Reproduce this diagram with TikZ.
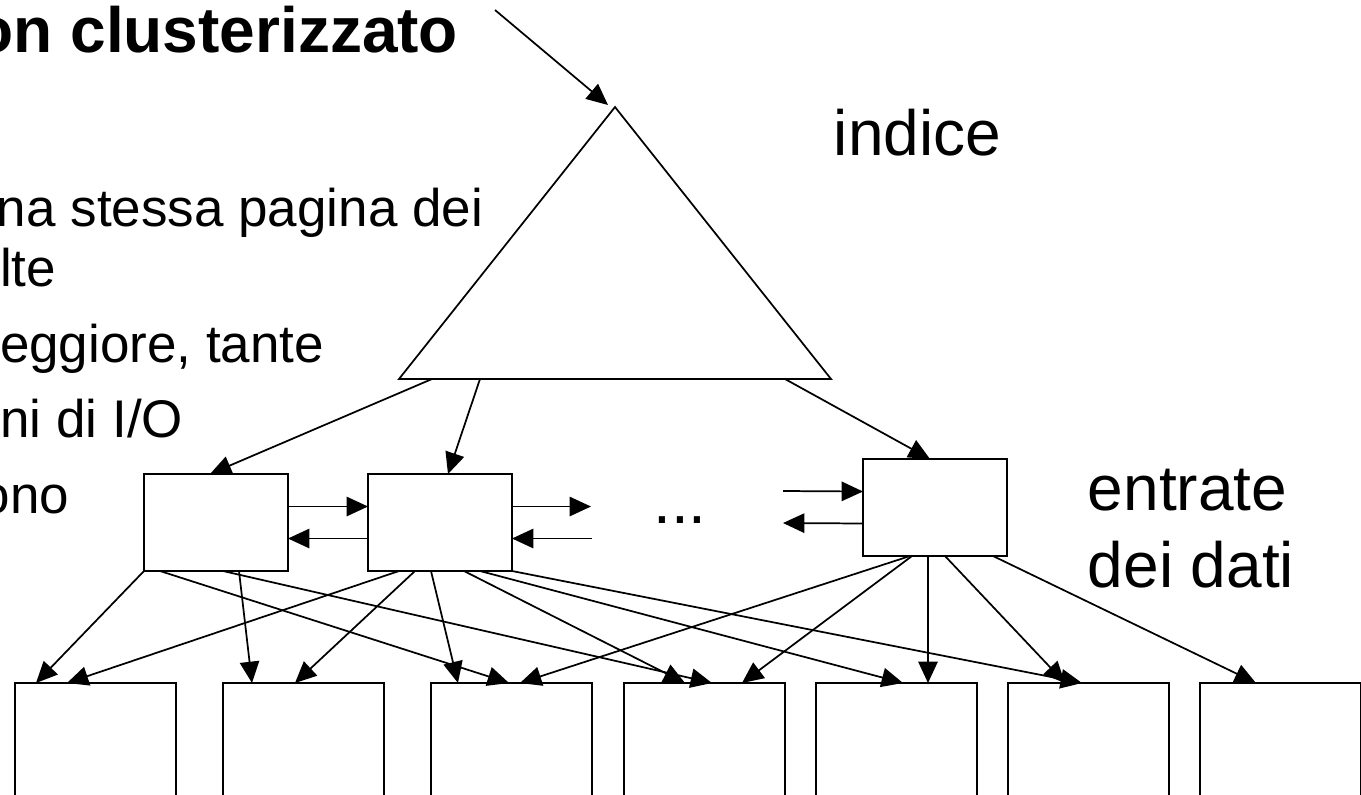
\documentclass[tikz,border=0pt]{standalone}
\usepackage{fontspec}
\setmainfont{Liberation Sans}
\usetikzlibrary{arrows.meta,calc}

\begin{document}
\begin{tikzpicture}[x=0.75pt,y=-0.75pt,line width=1.3pt,
  entrybox/.style={draw,anchor=north west,inner sep=0pt,outer sep=0pt,
    minimum width=108pt,minimum height=72.75pt},
  leafbox/.style={draw,anchor=north west,inner sep=0pt,outer sep=0pt,
    minimum width=120.75pt,minimum height=112.5pt},
  link/.style={-{Triangle[length=16pt,width=14.5pt]}},
  body/.style={inner sep=0pt,anchor=base east,font=\fontsize{39.75}{47}\selectfont},
  label/.style={inner sep=0pt,anchor=base west,font=\fontsize{48}{57.75}\selectfont}]

\useasboundingbox (0,0) rectangle (1361,794);
\clip (0,0) rectangle (1361,794);

% title and bullet text
\node[inner sep=0pt,anchor=base east,font=\bfseries\fontsize{48}{57}\selectfont]
  (title) at (459,52) {on clusterizzato};
\node[body] (l1) at (484,226) {na stessa pagina dei};
\node[body] (l2) at (57,286) {lte};
\node[body] (l3) at (325,362) {eggiore, tante};
\node[body] (l4) at (184,437) {ni di I/O};
\node[body] (l5) at (70,513) {ono};

% labels
\node[label] (lidx) at (833,155) {indice};
\node[label] (ldata1) at (1087,510) {entrate};
\node[label] (ldata2) at (1087,587) {dei dati};
\node[inner sep=0pt,anchor=base,font=\fontsize{48}{57}\selectfont] (dots) at (680,523) {...};

% index triangle
\coordinate (apex) at (615,107);
\coordinate (tl) at (399,379);
\coordinate (tr) at (831,379);
\draw[line join=miter] (apex) -- (tl) -- (tr) -- cycle;
\coordinate (in) at (495,10);
\draw[link] (in) -- ($(apex)+(-7,-2)$);

% data entry pages
\node[entrybox] (e1) at (144,474) {};
\node[entrybox] (e2) at (368,474) {};
\node[entrybox] (e3) at (863,459) {};

% triangle to entry pages
\draw[link] ($(tl)+(33,0)$) -- ($(e1.north west)+(66,0)$);
\draw[link] ($(tl)+(81,0)$) -- ($(e2.north west)+(80,0)$);
\draw[link] ($(tl)+(386,0)$) -- ($(e3.north west)+(67,0)$);

% sibling links
\draw[link] ($(e1.east)+(0,-16)$) -- ($(e2.west)+(0,-16)$);
\draw[link] ($(e2.west)+(0,16)$) -- ($(e1.east)+(0,16)$);
\coordinate (o1) at (591,506.5);
\coordinate (o2) at (592,538.5);
\draw[link] ($(e2.east)+(0,-16)$) -- (o1);
\draw[link] (o2) -- ($(e2.east)+(0,16)$);
\coordinate (o3) at (783,491);
\coordinate (o4) at (783,523);
\draw[link] (o3) -- ($(e3.west)+(0,-16)$);
\draw[link] ($(e3.west)+(0,16)$) -- (o4);

% data pages
\node[leafbox] (p1) at (15,683) {};
\node[leafbox] (p2) at (223,683) {};
\node[leafbox] (p3) at (431,683) {};
\node[leafbox] (p4) at (624,683) {};
\node[leafbox] (p5) at (816,683) {};
\node[leafbox] (p6) at (1008,683) {};
\node[leafbox] (p7) at (1200,683) {};

% entries to data pages
\draw[link] (e1.south west) -- ($(p1.north west)+(21,0)$);
\draw[link] ($(e1.south west)+(16,0)$) -- ($(p3.north west)+(78,0)$);
\draw[link] ($(e1.south west)+(79,0)$) -- ($(p4.north west)+(88,0)$);
\draw[link] ($(e1.south west)+(95,0)$) -- ($(p2.north west)+(29,0)$);

\draw[link] ($(e2.south west)+(31,0)$) -- ($(p1.north west)+(52,0)$);
\draw[link] ($(e2.south west)+(47,0)$) -- ($(p2.north west)+(72,0)$);
\draw[link] ($(e2.south west)+(63,0)$) -- ($(p3.north west)+(27,0)$);
\draw[link] ($(e2.south west)+(96,0)$) -- ($(p4.north west)+(61,0)$);
\draw[link] ($(e2.south west)+(112,0)$) -- ($(p5.north west)+(87,0)$);
\draw[link] (e2.south east) -- ($(p6.north west)+(74,0)$);

\draw[link] ($(e3.south west)+(47,0)$) -- ($(p3.north west)+(89,0)$);
\draw[link] ($(e3.south west)+(49,0)$) -- ($(p4.north west)+(118,0)$);
\draw[link] ($(e3.south west)+(65,0)$) -- ($(p5.north west)+(112,0)$);
\draw[link] ($(e3.south west)+(82,0)$) -- ($(p6.north west)+(57,0)$);
\draw[link] ($(e3.south west)+(130,0)$) -- ($(p7.north west)+(56,0)$);

\end{tikzpicture}
\end{document}
